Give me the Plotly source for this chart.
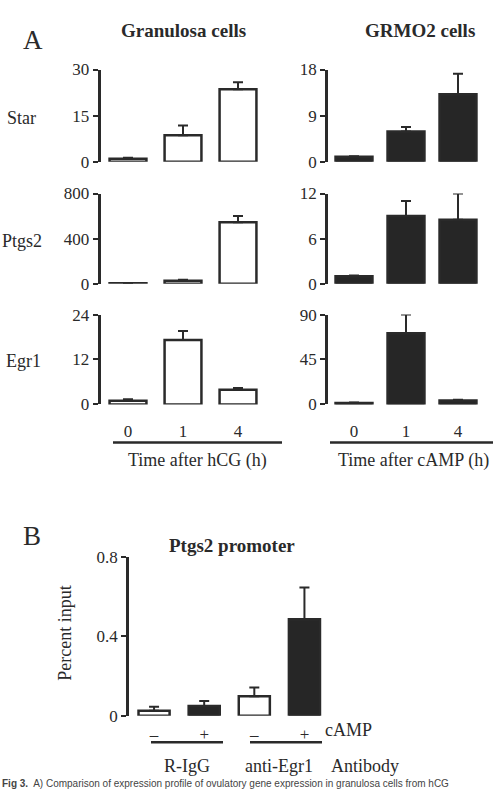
import plotly.graph_objects as go

W, H = 495, 801
SERIF = "Liberation Serif"
INK = "#2a2a2a"

# ---- data ----
time_labels = ["0", "1", "4"]
genes = ["Star", "Ptgs2", "Egr1"]

gran_vals = {"Star": [1.0, 8.6, 23.6], "Ptgs2": [5, 28, 545], "Egr1": [1.0, 17.2, 3.9]}
gran_err = {"Star": [0.3, 3.2, 2.3], "Ptgs2": [2, 8, 55], "Egr1": [0.4, 2.4, 0.5]}
grmo_vals = {"Star": [1.0, 5.9, 13.2], "Ptgs2": [1.0, 9.0, 8.5], "Egr1": [1.5, 71.4, 4.0]}
grmo_err = {"Star": [0.1, 0.9, 4.0], "Ptgs2": [0.1, 2.0, 3.5], "Egr1": [0.3, 18.6, 0.6]}

gran_ticks = {"Star": [0, 15, 30], "Ptgs2": [0, 400, 800], "Egr1": [0, 12, 24]}
grmo_ticks = {"Star": [0, 9, 18], "Ptgs2": [0, 6, 12], "Egr1": [0, 45, 90]}

chip_cats = ["R-IgG −", "R-IgG +", "anti-Egr1 −", "anti-Egr1 +"]
chip_labels = ["–", "+", "–", "+"]
chip_vals = [0.025, 0.05, 0.098, 0.485]
chip_err = [0.02, 0.024, 0.045, 0.16]
chip_ticks = [0, 0.4, 0.8]

# ---- geometry helpers ----
def px(x):
    return x / W

def py(y):
    return 1 - y / H

left_dom = [px(100.5), px(265.5)]
right_dom = [px(328), px(484)]
row_px = [(62, 156.5), (189, 281.5), (313, 405)]

TICK_SIZE = 17
LABEL_SIZE = 18

fig = go.Figure()
layout = dict(
    width=W, height=H, margin=dict(l=0, r=0, t=0, b=0),
    plot_bgcolor="white", paper_bgcolor="white", showlegend=False,
    font=dict(family=SERIF, size=TICK_SIZE, color=INK),
)

def yaxis_cfg(dom, ticks, anchor):
    return dict(domain=dom, range=[0, ticks[-1]], tickvals=ticks, ticktext=[str(t) for t in ticks],
                showline=True, linecolor=INK, linewidth=2.5, ticks="outside", ticklen=5,
                tickwidth=2, tickcolor=INK, showgrid=False, zeroline=False, anchor=anchor,
                tickfont=dict(family=SERIF, size=TICK_SIZE, color=INK), fixedrange=True)

def xaxis_cfg(dom, anchor, show_labels, ticktext=None, n=3, standoff=14):
    d = dict(domain=dom, range=[-0.5, n - 0.5], showline=False, showgrid=False, zeroline=False,
             anchor=anchor, fixedrange=True)
    if show_labels:
        d.update(tickvals=list(range(n)), ticktext=ticktext, ticks="outside", ticklen=standoff,
                 tickcolor="rgba(0,0,0,0)", tickfont=dict(family=SERIF, size=TICK_SIZE, color=INK))
    else:
        d.update(showticklabels=False, ticks="")
    return d

idx = 0
for r, gene in enumerate(genes):
    y0, y1 = row_px[r]
    ydom = [py(y1), py(y0)]
    for c, (vals, errs, tks, fill, xdom, width) in enumerate([
        (gran_vals, gran_err, gran_ticks, "white", left_dom, 0.67),
        (grmo_vals, grmo_err, grmo_ticks, "#262626", right_dom, 0.71),
    ]):
        idx += 1
        sx = "" if idx == 1 else str(idx)
        fig.add_trace(go.Bar(
            x=list(range(3)), y=vals[gene], width=width,
            marker=dict(color=fill, line=dict(color=INK, width=2.5)),
            error_y=dict(type="data", symmetric=False, array=errs[gene],
                         arrayminus=[0, 0, 0], color=INK, thickness=2, width=5),
            xaxis="x" + sx, yaxis="y" + sx,
        ))
        layout["xaxis" + sx] = xaxis_cfg(xdom, "y" + sx, r == 2, time_labels, 3, 11)
        layout["yaxis" + sx] = yaxis_cfg(ydom, tks[gene], "x" + sx)

# Panel B
idx += 1
sx = str(idx)
fig.add_trace(go.Bar(
    x=list(range(4)), y=chip_vals, width=0.62,
    marker=dict(color=["white", "#262626", "white", "#262626"], line=dict(color=INK, width=2.5)),
    error_y=dict(type="data", symmetric=False, array=chip_err, arrayminus=[0] * 4,
                 color=INK, thickness=2, width=5),
    xaxis="x" + sx, yaxis="y" + sx,
))
layout["xaxis" + sx] = xaxis_cfg([px(129), px(329.5)], "y" + sx, True, chip_labels, 4, 3)
layout["yaxis" + sx] = yaxis_cfg([py(724), py(561)], chip_ticks, "x" + sx)
layout["yaxis" + sx]["ticktext"] = ["0", "0.4", "0.8"]

fig.update_layout(**layout)

def ann(text, x, y, size=LABEL_SIZE, bold=False, angle=0, xanchor="center", family=SERIF, color=INK):
    fig.add_annotation(text=f"<b>{text}</b>" if bold else text, x=px(x), y=py(y),
                       xref="paper", yref="paper", showarrow=False, textangle=angle,
                       xanchor=xanchor, yanchor="middle",
                       font=dict(family=family, size=size, color=color))

ann("A", 33, 32, size=27)
ann("Granulosa cells", 183, 22, size=19, bold=True)
ann("GRMO2 cells", 420, 22, size=19, bold=True)
ann("Star", 21, 112, xanchor="center")
ann("Ptgs2", 22, 238)
ann("Egr1", 23, 361)
ann("Time after hCG (h)", 197, 462)
ann("Time after cAMP (h)", 413, 462)

ann("B", 32, 540, size=27)
ann("Ptgs2 promoter", 232, 550, size=19, bold=True)
ann("Percent input", 65, 640, angle=-90)
ann("cAMP", 348, 739)
ann("R-IgG", 187, 775)
ann("anti-Egr1", 279, 775)
ann("Antibody", 365, 775)

fig.add_annotation(text="<b>Fig 3.</b>  A) Comparison of expression profile of ovulatory gene expression in granulosa cells from hCG",
                   x=0, y=0, xref="paper", yref="paper", showarrow=False,
                   xanchor="left", yanchor="bottom", font=dict(family="Liberation Sans", size=10, color="#444444"))

for (x0, x1, y) in [(113, 282, 444), (330, 493, 444), (151, 223, 751), (250, 322, 751)]:
    fig.add_shape(type="line", xref="paper", yref="paper", x0=px(x0), x1=px(x1), y0=py(y), y1=py(y),
                  line=dict(color=INK, width=2.5))

fig.write_html("out.html")
